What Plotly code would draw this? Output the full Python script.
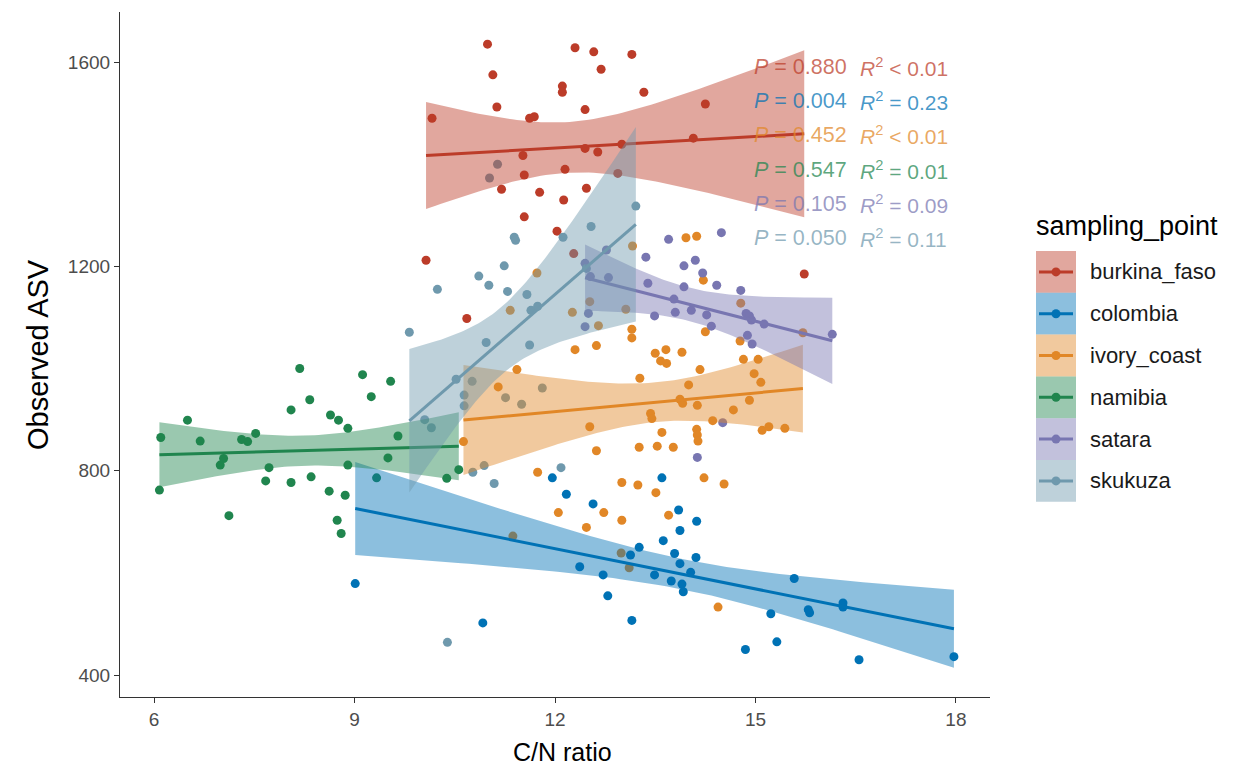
import numpy as np
import plotly.graph_objects as go

# ---------------- data ----------------
groups = ["burkina_faso", "colombia", "ivory_coast", "namibia", "satara", "skukuza"]
colors = ["#BC3C29", "#0072B5", "#E18727", "#20854E", "#7876B1", "#6F99AD"]

burkina_faso_cn = [10.99, 12.30, 12.58, 13.15, 11.07, 12.69, 12.11, 12.11, 13.33, 11.13, 12.45,
                   14.25, 10.16, 11.62, 11.69, 14.07, 13.00, 12.45, 12.64, 11.52, 11.54, 12.15,
                   12.94, 11.20, 11.77, 12.47, 12.13, 11.54, 12.03, 10.07, 15.73, 10.68, 12.28]
burkina_faso_asv = [1635, 1628, 1620, 1615, 1575, 1586, 1553, 1541, 1541, 1512, 1507,
                    1518, 1490, 1490, 1493, 1451, 1439, 1431, 1424, 1417, 1379, 1390,
                    1382, 1351, 1345, 1353, 1330, 1297, 1269, 1212, 1185, 1098, 1225]

colombia_cn = [9.01, 10.92, 11.96, 12.17, 12.57, 13.60, 13.85, 14.12, 13.87, 13.62, 13.26, 13.13,
               13.79, 14.11, 13.87, 14.03, 13.49, 13.74, 13.90, 13.92, 12.37, 12.72, 12.79, 13.15,
               14.85, 15.23, 15.58, 16.31, 16.31, 15.79, 15.81, 15.32, 16.55, 17.97]
colombia_asv = [579, 502, 786, 754, 735, 786, 723, 701, 683, 663, 650, 635,
                638, 630, 618, 601, 596, 584, 578, 563, 612, 596, 555, 507,
                450, 520, 589, 541, 533, 528, 522, 465, 430, 436]

ivory_coast_cn = [11.73, 11.33, 12.26, 12.52, 13.06, 12.65, 13.15, 13.15, 12.30, 12.62, 13.50, 13.66,
                  13.58, 13.67, 13.90, 14.25, 14.17, 13.27, 14.00, 14.82, 15.04, 14.98, 15.08, 14.78,
                  14.77, 15.71, 13.87, 13.91, 14.13, 14.67, 14.91, 13.43, 13.45, 12.52, 14.36, 13.60,
                  14.12, 14.13, 14.14, 15.10, 15.20, 15.44, 12.62, 13.26, 13.53, 13.77, 11.74, 13.00,
                  13.24, 13.51, 14.23, 14.53, 12.05, 12.73, 13.70, 12.47, 13.00, 14.44, 11.43, 11.15,
                  10.63, 13.96, 14.12, 14.22, 13.16, 11.37, 12.99, 13.11]
ivory_coast_asv = [1187, 1114, 1110, 1131, 1116, 1084, 1077, 1060, 1037, 1045, 1030, 1037,
                   1015, 1010, 1032, 1072, 998, 981, 968, 1018, 1018, 990, 973, 1128,
                   1054, 1070, 940, 932, 928, 919, 938, 912, 902, 886, 898, 875,
                   881, 870, 858, 879, 886, 883, 839, 846, 848, 846, 797, 777,
                   772, 757, 786, 774, 718, 718, 713, 689, 703, 533, 998, 964,
                   857, 1256, 1259, 1173, 1240, 672, 639, 610]

namibia_cn = [8.18, 9.12, 9.54, 8.33, 9.25, 8.05, 6.50, 8.64, 8.76, 8.90, 6.10, 6.69, 7.31, 7.40,
              7.52, 9.65, 7.04, 6.99, 7.72, 8.90, 9.50, 6.08, 7.67, 8.05, 8.35, 8.62, 8.86, 7.12,
              8.74, 8.80, 10.38, 10.56, 9.33]
namibia_asv = [1000, 988, 975, 939, 945, 919, 899, 909, 899, 883, 865, 858, 861, 857,
               873, 868, 824, 811, 806, 811, 825, 762, 780, 777, 788, 760, 752, 712,
               703, 677, 785, 802, 786]

satara_cn = [12.77, 13.70, 14.49, 13.36, 13.93, 14.10, 14.21, 14.42, 14.78, 13.39, 13.93, 13.78,
             13.80, 14.04, 14.27, 13.49, 14.34, 14.86, 14.91, 14.94, 15.13, 14.88, 14.95, 16.15,
             12.45, 12.53, 12.80, 12.50, 12.45, 14.51, 14.13]
satara_asv = [1232, 1253, 1266, 1218, 1201, 1212, 1187, 1163, 1153, 1167, 1160, 1136,
              1110, 1114, 1105, 1103, 1083, 1108, 1103, 1095, 1087, 1065, 1048, 1067,
              1206, 1180, 1178, 1108, 1082, 894, 826]

skukuza_cn = [11.14, 11.02, 13.21, 12.54, 11.39, 11.41, 12.12, 11.24, 10.86, 11.01, 10.24, 11.29,
              11.58, 11.64, 11.74, 9.82, 10.97, 11.62, 10.52, 10.76, 10.64, 10.64, 11.26, 11.50,
              11.81, 10.05, 10.15, 10.77, 10.94, 11.09, 12.09, 10.39, 12.47]
skukuza_asv = [1400, 1373, 1318, 1278, 1257, 1251, 1257, 1201, 1181, 1163, 1155, 1151,
               1145, 1114, 1122, 1071, 1051, 1046, 979, 975, 948, 927, 943, 930,
               962, 900, 884, 797, 810, 775, 806, 464, 1196]

stat_p = ["0.880", "0.004", "0.452", "0.547", "0.105", "0.050"]
stat_r2 = ["< 0.01", "= 0.23", "< 0.01", "= 0.01", "= 0.09", "= 0.11"]

x_ticks = [6, 9, 12, 15, 18]
y_ticks = [400, 800, 1200, 1600]

series = {
    "burkina_faso": (burkina_faso_cn, burkina_faso_asv),
    "colombia": (colombia_cn, colombia_asv),
    "ivory_coast": (ivory_coast_cn, ivory_coast_asv),
    "namibia": (namibia_cn, namibia_asv),
    "satara": (satara_cn, satara_asv),
    "skukuza": (skukuza_cn, skukuza_asv),
}


def rgba(hex_color, a):
    h = hex_color.lstrip("#")
    r, g, b = int(h[0:2], 16), int(h[2:4], 16), int(h[4:6], 16)
    return f"rgba({r},{g},{b},{a})"


def t_crit(df):
    # Cornish-Fisher approximation of the 97.5% Student t quantile
    z = 1.959964
    return (z + (z**3 + z) / (4 * df) + (5 * z**5 + 16 * z**3 + 3 * z) / (96 * df**2)
            + (3 * z**7 + 19 * z**5 + 17 * z**3 - 15 * z) / (384 * df**3))


def lm_band(x, y, n_out=80):
    x = np.asarray(x, float)
    y = np.asarray(y, float)
    n = len(x)
    xm = x.mean()
    sxx = ((x - xm) ** 2).sum()
    b1 = ((x - xm) * (y - y.mean())).sum() / sxx
    b0 = y.mean() - b1 * xm
    resid = y - (b0 + b1 * x)
    s = np.sqrt((resid ** 2).sum() / (n - 2))
    xs = np.linspace(x.min(), x.max(), n_out)
    fit = b0 + b1 * xs
    se = s * np.sqrt(1.0 / n + (xs - xm) ** 2 / sxx)
    t = t_crit(n - 2)
    return xs, fit, fit - t * se, fit + t * se


fig = go.Figure()

# points first (as ggplot: geom_point then geom_smooth)
for g, c in zip(groups, colors):
    xv, yv = series[g]
    fig.add_trace(go.Scatter(x=xv, y=yv, mode="markers", name=g,
                             marker=dict(color=c, size=9, line=dict(width=0)),
                             showlegend=False, hoverinfo="skip"))

# ribbons + lines per group
for g, c in zip(groups, colors):
    xv, yv = series[g]
    xs, fit, lo, hi = lm_band(xv, yv)
    fig.add_trace(go.Scatter(x=np.concatenate([xs, xs[::-1]]),
                             y=np.concatenate([hi, lo[::-1]]),
                             fill="toself", fillcolor=rgba(c, 0.45),
                             line=dict(width=0), mode="lines",
                             showlegend=False, hoverinfo="skip"))
    fig.add_trace(go.Scatter(x=xs, y=fit, mode="lines",
                             line=dict(color=c, width=3),
                             showlegend=False, hoverinfo="skip"))

# ---------------- layout ----------------
W, H = 1239, 774
L, R, T, B = 120, 249, 12, 77
PW, PH = W - L - R, H - T - B


def px_x(px):
    return (px - L) / PW


def px_y(py):
    return 1 - (py - T) / PH


font_family = "Liberation Sans, Arial, sans-serif"
annotations = []
shapes = []

# stats text
for i, (g, c) in enumerate(zip(groups, colors)):
    yy = px_y(67 + 34.2 * i)
    annotations.append(dict(xref="paper", yref="paper", x=px_x(752), y=yy,
                            xanchor="left", yanchor="middle", showarrow=False,
                            text=f"<i>P</i> = {stat_p[i]}",
                            font=dict(size=21.5, color=rgba(c, 0.72), family=font_family)))
    annotations.append(dict(xref="paper", yref="paper", x=px_x(858), y=yy,
                            xanchor="left", yanchor="middle", showarrow=False,
                            text=f"<i>R</i><sup>2</sup> {stat_r2[i].replace('<', '&lt;')}",
                            font=dict(size=21, color=rgba(c, 0.72), family=font_family)))

# axis titles
annotations.append(dict(xref="paper", yref="paper", x=px_x(38), y=px_y(355),
                        xanchor="center", yanchor="middle", showarrow=False, textangle=-90,
                        text="Observed ASV",
                        font=dict(size=29, color="#000000", family=font_family)))
annotations.append(dict(xref="paper", yref="paper", x=px_x(562), y=px_y(752),
                        xanchor="center", yanchor="middle", showarrow=False,
                        text="C/N ratio",
                        font=dict(size=25, color="#000000", family=font_family)))

# custom legend (ggplot style keys)
annotations.append(dict(xref="paper", yref="paper", x=px_x(1034), y=px_y(226),
                        xanchor="left", yanchor="middle", showarrow=False,
                        text="sampling_point",
                        font=dict(size=27, color="#000000", family=font_family)))
key_top, key_h = 251, 41.8
for i, (g, c) in enumerate(zip(groups, colors)):
    y0 = key_top + i * key_h
    y1 = y0 + key_h
    yc = (y0 + y1) / 2
    shapes.append(dict(type="rect", xref="paper", yref="paper",
                       x0=px_x(1036), x1=px_x(1076), y0=px_y(y1), y1=px_y(y0),
                       fillcolor=rgba(c, 0.45), line=dict(width=0), layer="above"))
    shapes.append(dict(type="line", xref="paper", yref="paper",
                       x0=px_x(1039), x1=px_x(1073), y0=px_y(yc), y1=px_y(yc),
                       line=dict(color=c, width=3), layer="above"))
    shapes.append(dict(type="circle", xref="paper", yref="paper",
                       x0=px_x(1051.5), x1=px_x(1060.5), y0=px_y(yc + 4.5), y1=px_y(yc - 4.5),
                       fillcolor=c, line=dict(width=0), layer="above"))
    annotations.append(dict(xref="paper", yref="paper", x=px_x(1088), y=px_y(yc),
                            xanchor="left", yanchor="middle", showarrow=False,
                            text=g, font=dict(size=22, color="#1a1a1a", family=font_family)))

axis_common = dict(showgrid=False, zeroline=False, showline=True, linecolor="#333333",
                   linewidth=1.2, ticks="outside", ticklen=5, tickcolor="#333333",
                   tickwidth=1.1, tickfont=dict(size=19, color="#4D4D4D", family=font_family))

fig.update_layout(
    width=W, height=H,
    margin=dict(l=L, r=R, t=T, b=B, pad=0),
    paper_bgcolor="white", plot_bgcolor="white",
    showlegend=False,
    font=dict(family=font_family),
    xaxis=dict(range=[5.49, 18.51], tickvals=x_ticks, ticktext=[str(v) for v in x_ticks],
               **axis_common),
    yaxis=dict(range=[357, 1698], tickvals=y_ticks, ticktext=[str(v) for v in y_ticks],
               **axis_common),
    annotations=annotations,
    shapes=shapes,
)

fig.write_html("out.html")
